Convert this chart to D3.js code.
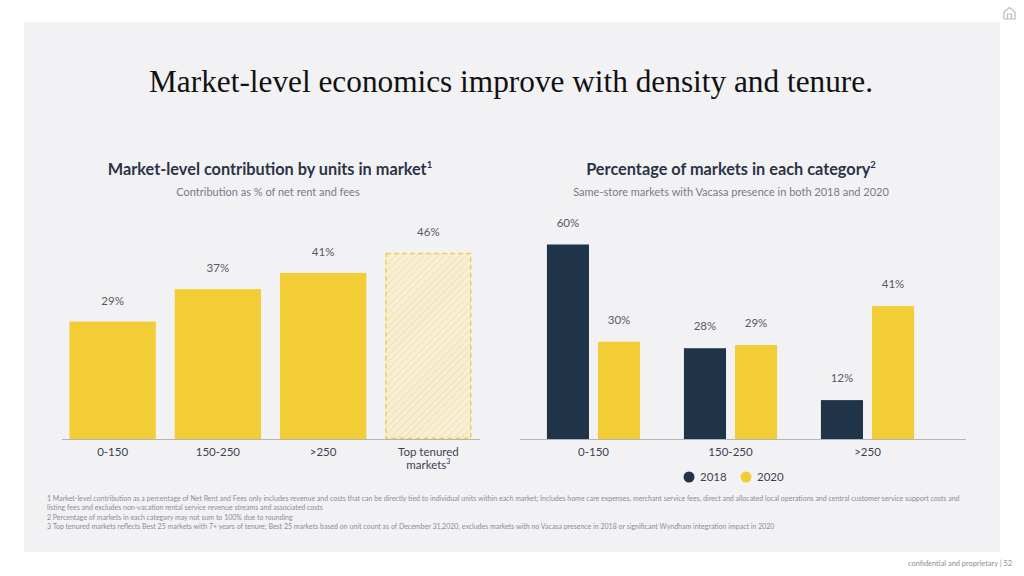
<!DOCTYPE html>
<html><head><meta charset="utf-8">
<script src="https://cdn.jsdelivr.net/npm/d3@7"></script>
<style>
html,body{margin:0;padding:0;background:#fff;}
svg{display:block;}
</style></head>
<body>
<svg id="chart" width="1024" height="576"></svg>
<script>
// ---- Data ----
const leftCategories = ["0-150", "150-250", ">250", "Top tenured markets"];
const leftValues = [29, 37, 41, 46];
const rightCategories = ["0-150", "150-250", ">250"];
const seriesNames = ["2018", "2020"];
const values2018 = [60, 28, 12];
const values2020 = [30, 29, 41];
const footnotes = [
  "1 Market-level contribution as a percentage of Net Rent and Fees only includes revenue and costs that can be directly tied to individual units within each market;  Includes home care expenses, merchant service fees, direct and allocated local operations and central customer service support costs and",
  "listing fees and excludes non-vacation rental service revenue streams and associated costs",
  "2 Percentage of markets in each category may not sum to 100% due to rounding",
  "3 Top tenured markets reflects Best 25 markets with 7+ years of tenure; Best 25 markets based on unit count as of December 31,2020, excludes markets with no Vacasa presence in 2018 or significant Wyndham integration impact in 2020"
];

const NAVY = "#1f3349", YELLOW = "#f2cd36", TEXT = "#2b3446", GRAY = "#777b84";
const sans = "Lato, 'Open Sans', sans-serif";
const svg = d3.select("#chart");

// background panel
svg.append("rect").attr("x", 24).attr("y", 22).attr("width", 976).attr("height", 530).attr("fill", "#f2f2f5");

// hatch pattern
const defs = svg.append("defs");
const pat = defs.append("pattern").attr("id", "hatch").attr("patternUnits", "userSpaceOnUse")
  .attr("width", 5).attr("height", 5).attr("patternTransform", "rotate(45)");
pat.append("rect").attr("width", 5).attr("height", 5).attr("fill", "#f6efd6");
pat.append("line").attr("x1", 0).attr("y1", 0).attr("x2", 0).attr("y2", 5).attr("stroke", "#efe0a6").attr("stroke-width", 1.6);

// house icon top-right
const icon = svg.append("g").attr("transform", "translate(1003,6)").attr("fill", "none").attr("stroke", "#b8bcc4").attr("stroke-width", 1.2);
icon.append("path").attr("d", "M1,6 L6.5,1.5 L12,6 L12,13 L1,13 Z");
icon.append("path").attr("d", "M4.5,13 L4.5,8 L8.5,8 L8.5,13");

// Main title
svg.append("text").attr("x", 511).attr("y", 92).attr("text-anchor", "middle")
  .attr("font-family", "'Liberation Serif', 'DejaVu Serif', serif").attr("font-size", 31.3).attr("fill", "#111")
  .text("Market-level economics improve with density and tenure.");

// ---- Left chart ----
const base = 439;
svg.append("text").attr("x", 270).attr("y", 175).attr("text-anchor", "middle")
  .attr("font-family", sans).attr("font-weight", 700).attr("font-size", 16.3).attr("fill", TEXT)
  .text("Market-level contribution by units in market").append("tspan").attr("font-size", 9.5).attr("dy", -7).text("1");
svg.append("text").attr("x", 268).attr("y", 196).attr("text-anchor", "middle")
  .attr("font-family", sans).attr("font-size", 11).attr("fill", GRAY)
  .text("Contribution as % of net rent and fees");

const xL = d3.scaleBand().domain(leftCategories).range([60, 481]).paddingInner(0.18).paddingOuter(0.09);
const yL = d3.scaleLinear().domain([0, 50]).range([base, base - 202.5]);
const leftData = leftCategories.map((c, i) => ({c, v: leftValues[i], i}));

const lg = svg.append("g");
lg.selectAll("rect.bar").data(leftData.filter(d => d.i < 3)).join("rect").attr("class", "bar")
  .attr("x", d => xL(d.c)).attr("width", xL.bandwidth())
  .attr("y", d => yL(d.v)).attr("height", d => yL(0) - yL(d.v)).attr("fill", YELLOW);
const hd = leftData[3];
lg.append("rect").attr("x", xL(hd.c) + 0.75).attr("width", xL.bandwidth() - 1.5)
  .attr("y", yL(hd.v) + 0.75).attr("height", yL(0) - yL(hd.v) - 1.5)
  .attr("fill", "url(#hatch)").attr("stroke", "#efd04e").attr("stroke-width", 1.5).attr("stroke-dasharray", "5,3");
lg.selectAll("text.val").data(leftData).join("text").attr("class", "val")
  .attr("x", d => xL(d.c) + xL.bandwidth() / 2).attr("y", d => yL(d.v) - 17)
  .attr("text-anchor", "middle").attr("font-family", sans).attr("font-size", 11.5).attr("fill", "#555a63")
  .text(d => d.v + "%");
lg.append("line").attr("x1", 62).attr("x2", 480).attr("y1", base + 0.5).attr("y2", base + 0.5).attr("stroke", "#b5b5b8").attr("stroke-width", 1);
const axL = lg.append("g").attr("transform", `translate(0,${base})`)
  .call(d3.axisBottom(xL).tickSize(0).tickPadding(0).tickFormat(() => ""));
axL.select(".domain").remove();
axL.selectAll(".tick").each(function(d, i) {
  const t = d3.select(this).append("text").attr("fill", "#3c4250").attr("font-family", sans).attr("font-size", 11.5)
    .attr("text-anchor", "middle").attr("y", 17);
  if (i === 3) {
    t.append("tspan").attr("x", 0).text("Top tenured");
    const t2 = d3.select(this).append("text").attr("fill", "#3c4250").attr("font-family", sans).attr("font-size", 11.5)
      .attr("text-anchor", "middle").attr("y", 30);
    t2.text("markets").append("tspan").attr("font-size", 7).attr("dy", -5).text("3");
  } else {
    t.text(d);
  }
});

// ---- Right chart ----
svg.append("text").attr("x", 731).attr("y", 175).attr("text-anchor", "middle")
  .attr("font-family", sans).attr("font-weight", 700).attr("font-size", 16.3).attr("fill", TEXT)
  .text("Percentage of markets in each category").append("tspan").attr("font-size", 9.5).attr("dy", -7).text("2");
svg.append("text").attr("x", 731).attr("y", 196).attr("text-anchor", "middle")
  .attr("font-family", sans).attr("font-size", 11).attr("fill", GRAY)
  .text("Same-store markets with Vacasa presence in both 2018 and 2020");

const x0 = d3.scaleBand().domain(rightCategories).range([525, 936]).paddingInner(0.32).paddingOuter(0.16);
const x1 = d3.scaleBand().domain(seriesNames).range([0, x0.bandwidth()]).paddingInner(0.176);
const yR = d3.scaleLinear().domain([0, 60]).range([base, base - 194.5]);
const color = d3.scaleOrdinal().domain(seriesNames).range([NAVY, YELLOW]);
const rightData = rightCategories.map((c, i) => ({c, vals: [{s: "2018", v: values2018[i]}, {s: "2020", v: values2020[i]}]}));

const rg = svg.append("g");
const groups = rg.selectAll("g.grp").data(rightData).join("g").attr("class", "grp")
  .attr("transform", d => `translate(${x0(d.c)},0)`);
groups.selectAll("rect").data(d => d.vals).join("rect")
  .attr("x", d => x1(d.s)).attr("width", x1.bandwidth())
  .attr("y", d => yR(d.v)).attr("height", d => yR(0) - yR(d.v)).attr("fill", d => color(d.s));
groups.selectAll("text").data(d => d.vals).join("text")
  .attr("x", d => x1(d.s) + x1.bandwidth() / 2).attr("y", d => yR(d.v) - 18)
  .attr("text-anchor", "middle").attr("font-family", sans).attr("font-size", 11.5).attr("fill", "#555a63")
  .text(d => d.v + "%");
rg.append("line").attr("x1", 520).attr("x2", 966).attr("y1", base + 0.5).attr("y2", base + 0.5).attr("stroke", "#b5b5b8").attr("stroke-width", 1);
const axR = rg.append("g").attr("transform", `translate(0,${base})`)
  .call(d3.axisBottom(x0).tickSize(0).tickPadding(9));
axR.select(".domain").remove();
axR.selectAll("text").attr("fill", "#3c4250").attr("font-family", sans).attr("font-size", 11.5);

// legend
const legX = [689, 746];
const leg = rg.selectAll("g.leg").data(seriesNames).join("g").attr("class", "leg")
  .attr("transform", (d, i) => `translate(${legX[i]},477)`);
leg.append("circle").attr("r", 5.5).attr("fill", d => color(d));
leg.append("text").attr("x", 11).attr("y", 4).attr("font-family", sans).attr("font-size", 11.5).attr("fill", "#3c4250").text(d => d);

// footnotes
svg.append("g").selectAll("text").data(footnotes).join("text")
  .attr("x", 47).attr("y", (d, i) => 501 + i * 9.3)
  .attr("font-family", sans).attr("font-size", 7).attr("fill", "#8a8d94").text(d => d);

// footer
svg.append("text").attr("x", 1012).attr("y", 566).attr("text-anchor", "end")
  .attr("font-family", sans).attr("font-size", 7.4).attr("fill", "#8a8d94").text("confidential and proprietary  |  52");
</script>
</body></html>
